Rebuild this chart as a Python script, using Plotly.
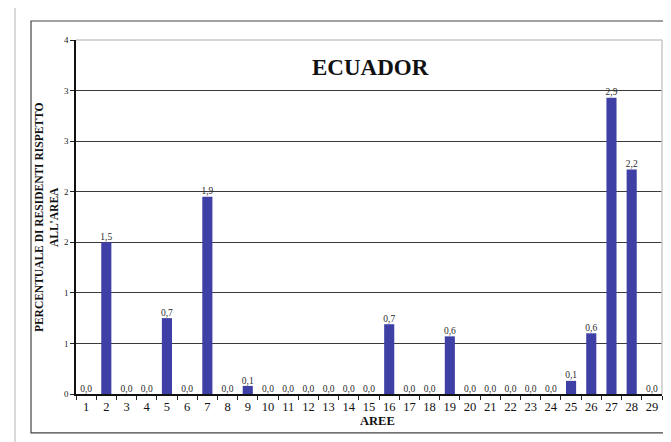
import plotly.graph_objects as go

areas = [str(i) for i in range(1, 30)]
values = [0, 1.50, 0, 0, 0.75, 0, 1.95, 0, 0.08, 0, 0, 0, 0, 0, 0,
          0.69, 0, 0, 0.57, 0, 0, 0, 0, 0, 0.13, 0.60, 2.93, 2.22, 0]
labels = ["0,0", "1,5", "0,0", "0,0", "0,7", "0,0", "1,9", "0,0", "0,1", "0,0",
          "0,0", "0,0", "0,0", "0,0", "0,0", "0,7", "0,0", "0,0", "0,6", "0,0",
          "0,0", "0,0", "0,0", "0,0", "0,1", "0,6", "2,9", "2,2", "0,0"]
y_tickvals = [0, 0.5, 1, 1.5, 2, 2.5, 3, 3.5]
y_ticktext = ["0", "1", "1", "2", "2", "3", "3", "4"]

SERIF = "Liberation Serif, DejaVu Serif, serif"

fig = go.Figure()
fig.add_trace(go.Bar(
    x=areas, y=values, width=0.5,
    marker=dict(color="#3E40A6", line=dict(width=0)),
    hoverinfo="x+y",
))
fig.add_trace(go.Scatter(
    x=areas, y=values, text=labels, mode="text",
    textposition="top center",
    textfont=dict(family=SERIF, size=9.5, color="#2a2a2a"),
    cliponaxis=False, hoverinfo="skip",
))

fig.update_layout(
    width=663, height=434,
    margin=dict(l=68, r=9, t=32, b=48),
    paper_bgcolor="white", plot_bgcolor="white",
    showlegend=False,
    font=dict(family=SERIF, color="#111111"),
    xaxis=dict(
        type="category", tickson="boundaries", ticks="outside", ticklen=4,
        tickcolor="#222222", tickwidth=1, tickangle=0,
        showline=True, linecolor="#111111", linewidth=1.5,
        showgrid=False, range=[-0.5, 28.5],
        tickfont=dict(family=SERIF, size=12.5, color="#111111"),
        fixedrange=True,
    ),
    yaxis=dict(
        range=[0, 3.5], tickvals=y_tickvals, ticktext=y_ticktext,
        ticks="outside", ticklen=4, tickcolor="#222222",
        showline=True, linecolor="#111111", linewidth=1.5,
        showgrid=True, gridcolor="#3a3a3a", gridwidth=1,
        zeroline=False,
        tickfont=dict(family=SERIF, size=9, color="#222222"),
        fixedrange=True,
    ),
    shapes=[
        dict(type="rect", xref="paper", yref="paper",
             x0=-0.104, x1=1.04, y0=-0.17, y1=1.093,
             line=dict(color="#cfcfcf", width=1.5), layer="below"),
        dict(type="rect", xref="paper", yref="paper",
             x0=-0.0768, x1=1.0085, y0=-0.110, y1=1.0537,
             line=dict(color="#444444", width=1.2), layer="below"),
        dict(type="line", xref="paper", yref="paper",
             x0=0, x1=1, y0=1, y1=1,
             line=dict(color="#c8c8c8", width=1.5), layer="above"),
        dict(type="line", xref="paper", yref="paper",
             x0=1, x1=1, y0=0, y1=1,
             line=dict(color="#c8c8c8", width=1.5), layer="above"),
    ],
    annotations=[
        dict(text="<b>ECUADOR</b>", xref="paper", yref="paper",
             x=0.502, y=0.921, xanchor="center", yanchor="middle",
             showarrow=False,
             font=dict(family=SERIF, size=23, color="#111111")),
        dict(text="<b>PERCENTUALE DI RESIDENTI RISPETTO<br>ALL'AREA</b>",
             xref="paper", yref="paper", x=-0.051, y=0.5,
             xanchor="center", yanchor="middle",
             textangle=-90, showarrow=False,
             font=dict(family=SERIF, size=11.5, color="#111111")),
        dict(text="<b>AREE</b>", xref="paper", yref="paper",
             x=0.515, y=-0.076, xanchor="center", yanchor="middle",
             showarrow=False,
             font=dict(family=SERIF, size=12.5, color="#111111")),
    ],
)

fig.write_html("out.html")
